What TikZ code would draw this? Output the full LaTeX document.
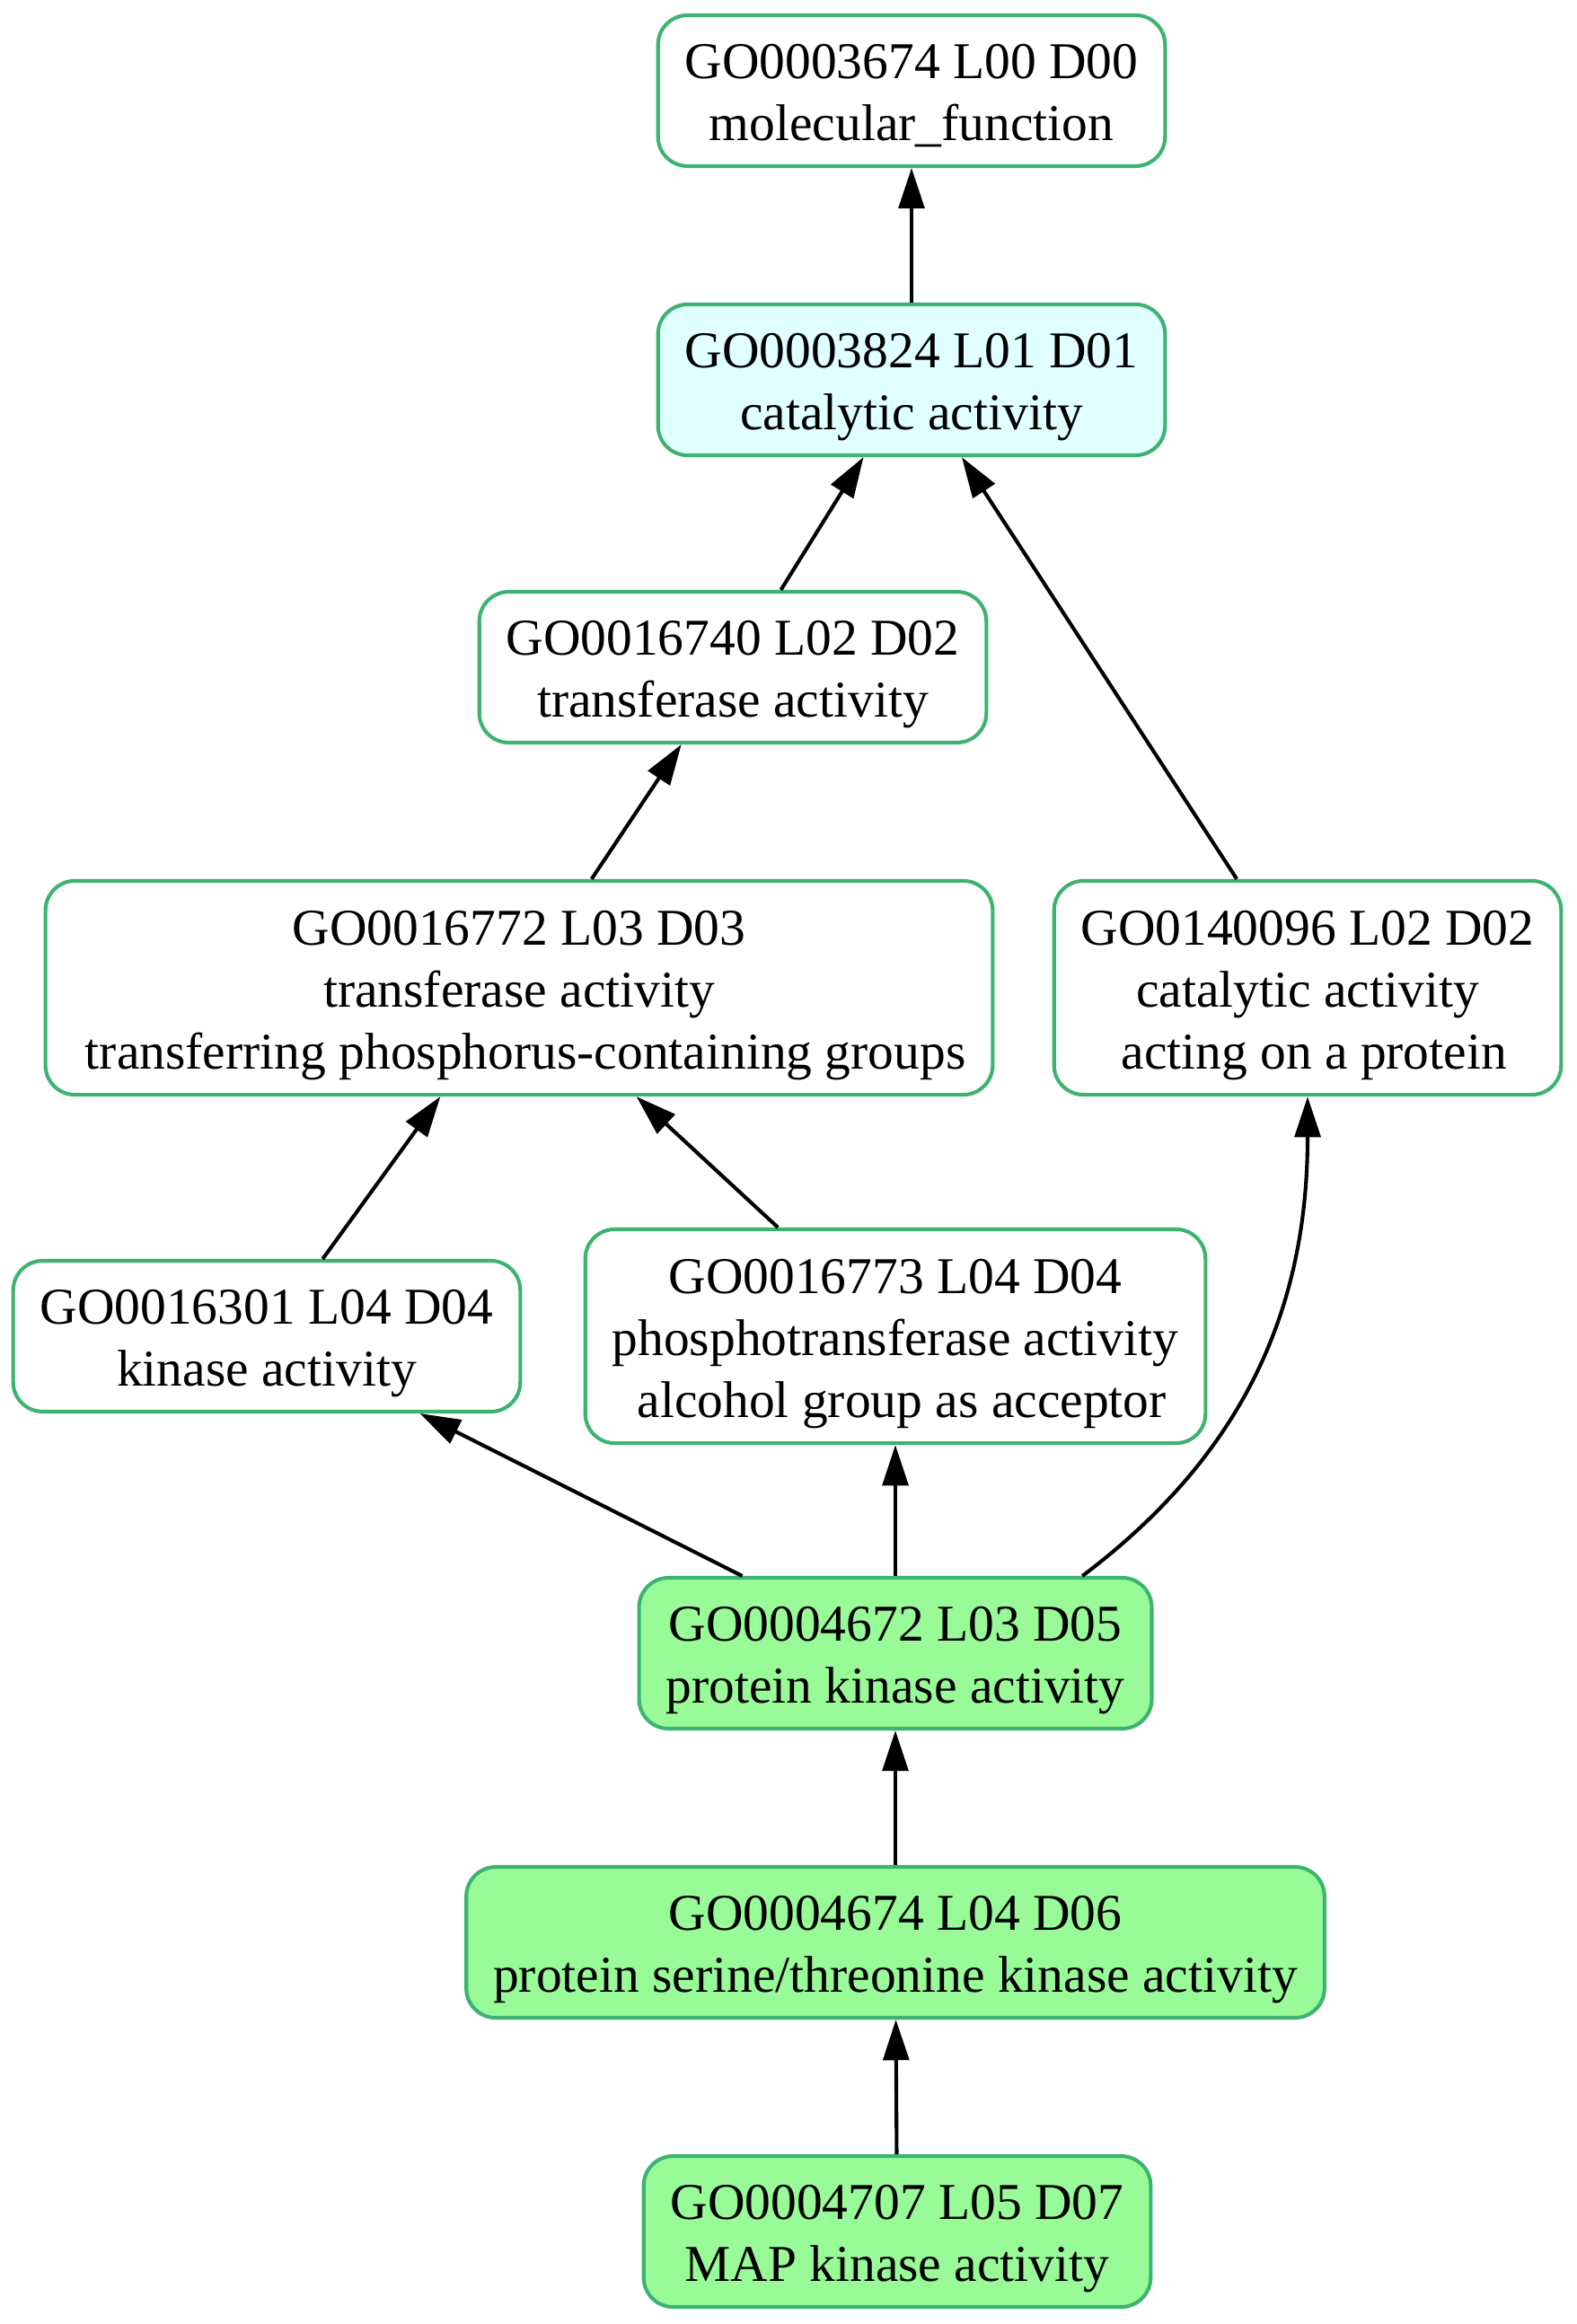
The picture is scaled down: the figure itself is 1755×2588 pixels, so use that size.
\documentclass[tikz,border=0pt]{standalone}
\usepackage{fontspec}
\setmainfont{Liberation Serif}
\definecolor{seagreen}{RGB}{60,179,113}
\definecolor{paleblue}{RGB}{224,255,255}
\definecolor{palegreen}{RGB}{152,251,152}
\usetikzlibrary{arrows.meta,positioning}
\newcommand{\lead}{\hspace*{.25em}}
\tikzset{
  box/.style={draw=seagreen,line width=1pt,rounded corners=8pt,fill=white,align=center,
              minimum height=40.9pt,inner xsep=7.3pt,inner ysep=0pt,
              text height=34pt,text depth=6.9pt,
              font=\fontsize{14}{16.8}\selectfont},
  tall/.style={box,minimum height=58pt,text height=50.8pt},
  hub/.style={box,fill=paleblue},
  hit/.style={box,fill=palegreen},
  arr/.style={-{Triangle[length=11pt,width=7pt]},line width=1pt,draw=black},
}
\begin{document}
\begin{tikzpicture}[x=0.2435pt,y=-0.2435pt]
    \useasboundingbox (0,0) rectangle (1755,2588);
    \node[box] (mf) at (1015,101) {GO0003674 L00 D00\\molecular\_function};
    \node[hub] (cat) at (1015,423) {GO0003824 L01 D01\\catalytic activity};
    \node[box] (trans) at (816,743) {GO0016740 L02 D02\\transferase activity};
    \node[tall] (phos) at (578,1100) {GO0016772 L03 D03\\transferase activity\\\lead transferring phosphorus-containing groups};
    \node[tall] (prot) at (1456,1100) {GO0140096 L02 D02\\catalytic activity\\\lead acting on a protein};
    \node[box] (kin) at (297,1488) {GO0016301 L04 D04\\kinase activity};
    \node[tall] (alc) at (997,1488) {GO0016773 L04 D04\\phosphotransferase activity\\\lead alcohol group as acceptor};
    \node[hit] (pk) at (997,1841) {GO0004672 L03 D05\\protein kinase activity};
    \node[hit] (stk) at (997,2163) {GO0004674 L04 D06\\protein serine/threonine kinase activity};
    \node[hit] (map) at (999,2485) {GO0004707 L05 D07\\MAP kinase activity};
    \draw[arr] (cat) -- (mf);
    \draw[arr] (trans) -- (cat);
    \draw[arr] (prot) -- (cat);
    \draw[arr] (phos) -- (trans);
    \draw[arr] (kin) -- (phos);
    \draw[arr] (alc) -- (phos);
    \draw[arr] (pk) -- (kin);
    \draw[arr] (pk) -- (alc);
    \draw[arr] ([xshift=50.7pt]pk.north) to[out=37,in=-90] (prot.south);
    \draw[arr] (stk) -- (pk);
    \draw[arr] (map) -- (stk);
  \end{tikzpicture}
\end{document}
